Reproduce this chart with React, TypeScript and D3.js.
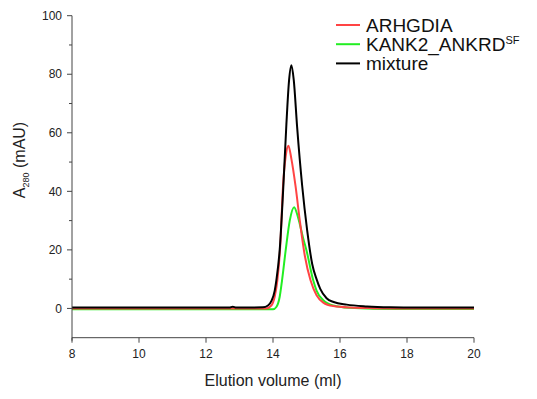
import React from 'react';
import * as d3 from 'd3';

// elution volume (ml) / A280 (mAU)
const arhVol = [8, 10, 12, 13.8, 13.95, 14.05, 14.13, 14.22, 14.3, 14.38, 14.46, 14.55, 14.67, 14.8, 14.95, 15.12, 15.3, 15.5, 15.8, 16.3, 17, 18, 20];
const arhAbs = [0, 0, 0, 0, 1, 4, 9.6, 22, 42, 52, 55.6, 51, 42, 30, 18, 9.6, 4.5, 2, 0.8, 0.3, 0.1, 0, 0];

const kankVol = [8, 10, 12, 14.0, 14.1, 14.2, 14.27, 14.38, 14.5, 14.63, 14.75, 14.9, 15.0, 15.2, 15.3, 15.5, 15.8, 16.3, 17, 18, 20];
const kankAbs = [-0.3, -0.3, -0.3, -0.3, 0.5, 4, 9.6, 20, 30, 34.6, 31, 24, 19.8, 9.6, 6.1, 2.8, 1.0, 0.2, -0.1, -0.2, -0.2];

const mixVol = [8, 10, 12, 12.7, 12.8, 12.9, 13.7, 13.85, 13.95, 14.05, 14.1, 14.2, 14.31, 14.4, 14.48, 14.55, 14.62, 14.72, 14.87, 15.02, 15.17, 15.3, 15.41, 15.6, 15.81, 16.2, 16.81, 17.5, 18.3, 20];
const mixAbs = [0.3, 0.3, 0.3, 0.3, 0.6, 0.3, 0.4, 1.0, 2.5, 6, 9.6, 20, 42, 63, 78, 83.1, 78, 62, 42, 26.7, 15.2, 10, 6.7, 3.5, 2.2, 1.3, 0.7, 0.4, 0.3, 0.3];

const xTicks = [8, 10, 12, 14, 16, 18, 20];
const yTicks = [0, 20, 40, 60, 80, 100];
const yMinor = [10, 30, 50, 70, 90];

const series = [
  { name: 'ARHGDIA', sup: '', color: '#ff4444', vol: arhVol, abs: arhAbs },
  { name: 'KANK2_ANKRD', sup: 'SF', color: '#22ee22', vol: kankVol, abs: kankAbs },
  { name: 'mixture', sup: '', color: '#000000', vol: mixVol, abs: mixAbs },
];

const App = () => {
  const width = 537;
  const height = 399;
  const margin = { top: 15.7, right: 63, bottom: 61.3, left: 72 };
  const iw = width - margin.left - margin.right;
  const ih = height - margin.top - margin.bottom;

  const x = d3.scaleLinear().domain([8, 20]).range([0, iw]);
  const y = d3.scaleLinear().domain([-10, 100]).range([ih, 0]);

  const line = d3.line<[number, number]>()
    .x(d => x(d[0]))
    .y(d => y(d[1]))
    .curve(d3.curveMonotoneX);

  const font = 'Arial, "Liberation Sans", sans-serif';
  const axisColor = '#444';

  return (
    <svg width={width} height={height} style={{ position: 'absolute', left: 0, top: 0 }} fontFamily={font}>
      <g transform={`translate(${margin.left},${margin.top})`}>
        {/* traces, drawn green first so black sits on top */}
        {[series[1], series[0], series[2]].map(s => (
          <path key={s.name} d={line(s.vol.map((v, i) => [v, s.abs[i]] as [number, number])) || ''}
            fill="none" stroke={s.color} strokeWidth={2} />
        ))}

        {/* y axis */}
        <line x1={0} x2={0} y1={0} y2={ih + 3} stroke={axisColor} strokeWidth={1} />
        {yTicks.map(t => (
          <g key={t} transform={`translate(0,${y(t)})`}>
            <line x1={-5} x2={0} stroke={axisColor} />
            <text x={-10} dy="0.35em" textAnchor="end" fontSize={12} fill="#222">{t}</text>
          </g>
        ))}
        {yMinor.map(t => (
          <line key={t} x1={-3} x2={0} y1={y(t)} y2={y(t)} stroke={axisColor} />
        ))}

        {/* x axis */}
        <line x1={0} x2={iw} y1={ih} y2={ih} stroke={axisColor} strokeWidth={1} />
        {xTicks.map(t => (
          <g key={t} transform={`translate(${x(t)},${ih})`}>
            <line y1={0} y2={5} stroke={axisColor} />
            <text y={20} textAnchor="middle" fontSize={12} fill="#222">{t}</text>
          </g>
        ))}

        <text x={iw / 2} y={ih + 48} textAnchor="middle" fontSize={16} fill="#222">Elution volume (ml)</text>
        <text transform={`translate(${25 - margin.left},${160 - margin.top}) rotate(-90)`} textAnchor="middle" fontSize={16} fill="#222">
          A<tspan fontSize={9} dy={4}>280</tspan><tspan dy={-4}> (mAU)</tspan>
        </text>
      </g>

      {/* legend */}
      <g transform="translate(336,25)">
        {series.map((s, i) => (
          <g key={s.name} transform={`translate(0,${i * 19.2})`}>
            <line x1={0} x2={24} stroke={s.color} strokeWidth={2} />
            <text x={30} dy="0.35em" fontSize={19} fill="#111">
              {s.name}{s.sup && <tspan fontSize={11} dy={-7}>{s.sup}</tspan>}
            </text>
          </g>
        ))}
      </g>
    </svg>
  );
};

export default App;
